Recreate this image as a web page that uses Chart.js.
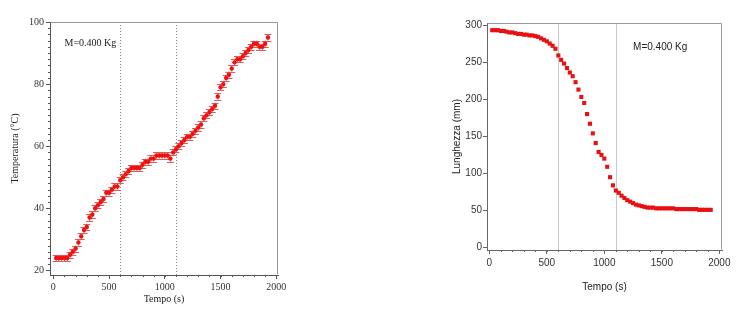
<!DOCTYPE html>
<html><head><meta charset="utf-8">
<script src="https://cdn.jsdelivr.net/npm/chart.js@4.4.0/dist/chart.umd.min.js"></script>
<style>
html,body{margin:0;padding:0;background:#fff;width:743px;height:324px;overflow:hidden}
#c1{position:absolute;left:0;top:0}
#c2{position:absolute;left:400px;top:0}
</style></head><body>
<canvas id="c1" width="300" height="324"></canvas>
<canvas id="c2" width="343" height="324"></canvas>
<script>
// ---- data ----
const times = [25,50,75,100,125,150,175,200,225,250,275,300,325,350,375,400,425,450,475,500,
  525,550,575,600,625,650,675,700,725,750,775,800,825,850,875,900,925,950,975,1000,
  1025,1050,1075,1100,1125,1150,1175,1200,1225,1250,1275,1300,1325,1350,1375,1400,1425,1450,1475,1500,
  1525,1550,1575,1600,1625,1650,1675,1700,1725,1750,1775,1800,1825,1850,1875,1900,1925];
const temperature = [24,24,24,24,24,25,26,27,29,31,
  33,34,37,38,40,41,42,43,45,45,
  46,47,47,49,50,51,52,53,53,53,
  53,54,55,55,56,56,57,57,57,57,
  57,56,58,59,60,61,62,63,63,64,
  65,66,67,69,70,71,72,73,76,79,
  80,82,83,85,87,88,88,89,90,91,
  92,93,93,92,92,93,95];
const temperatureError = [1,1,1,1,1,1,1,1,1,1,1,1,1,1,1,1,1,1,1,1,
  1,1,1,1,1,1,1,1,1,1,1,1,1,1,1,1,1,1,1,1,
  1,1,1,1,1,1,1,1,1,1,1,1,1,1,1,1,1,1,1,1,
  1,1,1,1,1,1,1,1,1,1,1,1,1,1,1,1,1];
const lengthMm = [293,293,293,292,292,291,290,290,289,288,
  288,287,287,286,286,285,284,282,280,278,
  275,272,268,259,253,248,242,236,231,223,
  213,203,195,180,167,154,141,129,125,120,
  109,95,84,77,74,70,67,64,62,60,
  58,57,56,55,54,54,54,53,53,53,
  53,53,53,53,52,52,52,52,52,52,
  52,52,51,51,51,51,51];
const markerTimes = [600, 1100];
const xTicks = [0,500,1000,1500,2000];
const tempYTicks = [20,40,60,80,100];
const lenYTicks = [0,50,100,150,200,250,300];
const noteText = 'M=0.400 Kg';

// ---- decoration plugin (frame, markers, error bars, minor ticks, note) ----
const decor = {
  id: 'decor',
  beforeDatasetsDraw(chart, args, o) {
    const {ctx, chartArea: a, scales: {x, y}} = chart;
    ctx.save();
    ctx.strokeStyle = o.markerColor; ctx.lineWidth = 1; ctx.setLineDash(o.markerDash);
    for (const t of o.markers) {
      const px = Math.round(x.getPixelForValue(t)) + 0.5;
      ctx.beginPath(); ctx.moveTo(px, a.top); ctx.lineTo(px, a.bottom); ctx.stroke();
    }
    ctx.setLineDash([]);
    if (o.errors) {
      const ds = chart.data.datasets[0].data;
      ctx.strokeStyle = o.errColor; ctx.lineWidth = 1;
      ds.forEach((p, i) => {
        const px = x.getPixelForValue(p.x);
        const y1 = y.getPixelForValue(p.y + o.errors[i]);
        const y2 = y.getPixelForValue(p.y - o.errors[i]);
        ctx.beginPath();
        ctx.moveTo(px, y1); ctx.lineTo(px, y2);
        ctx.moveTo(px - 3.5, Math.round(y1) + 0.5); ctx.lineTo(px + 3.5, Math.round(y1) + 0.5);
        ctx.moveTo(px - 3.5, Math.round(y2) + 0.5); ctx.lineTo(px + 3.5, Math.round(y2) + 0.5);
        ctx.stroke();
      });
    }
    ctx.restore();
  },
  afterDraw(chart, args, o) {
    const {ctx, chartArea: a, scales: {x, y}} = chart;
    ctx.save();
    ctx.strokeStyle = o.frameColor; ctx.lineWidth = 1;
    ctx.beginPath();
    ctx.moveTo(a.left + 0.5, a.top + 0.5); ctx.lineTo(a.right - 0.5, a.top + 0.5);
    ctx.lineTo(a.right - 0.5, a.bottom - 0.5);
    ctx.stroke();
    ctx.strokeStyle = o.tickColor;
    ctx.beginPath();
    if (o.xMinor) {
      for (let v = Math.ceil(x.min / o.xMinor) * o.xMinor; v <= x.max; v += o.xMinor) {
        const px = Math.round(x.getPixelForValue(v)) + 0.5;
        ctx.moveTo(px, a.bottom); ctx.lineTo(px, a.bottom + 2);
      }
    }
    if (o.yMinor) {
      for (let v = Math.ceil(y.min / o.yMinor) * o.yMinor; v <= y.max; v += o.yMinor) {
        const py = Math.round(y.getPixelForValue(v)) + 0.5;
        ctx.moveTo(a.left, py); ctx.lineTo(a.left - 2, py);
      }
    }
    ctx.stroke();
    ctx.fillStyle = o.noteColor; ctx.font = o.noteFont;
    ctx.textAlign = 'left'; ctx.textBaseline = 'middle';
    ctx.fillText(noteText, x.getPixelForValue(o.noteX), y.getPixelForValue(o.noteY));
    ctx.restore();
  }
};

function axis(opts) {
  return {
    type: 'linear', min: opts.min, max: opts.max,
    afterFit: opts.fit,
    afterBuildTicks: s => { s.ticks = opts.ticks.map(v => ({value: v})); },
    grid: {drawOnChartArea: false, tickLength: 4, color: opts.tickColor},
    border: {color: opts.tickColor},
    ticks: {padding: opts.tickPad, color: '#333', font: {family: opts.family, size: 10}, maxRotation: 0,
      autoSkip: false, callback: v => String(v)},
    title: {display: true, text: opts.title, color: '#222', font: {family: opts.family, size: 10}, padding: opts.titlePad}
  };
}

new Chart(document.getElementById('c1'), {
  type: 'scatter',
  data: {datasets: [{
    data: times.map((t, i) => ({x: t, y: temperature[i]})),
    pointStyle: 'circle', pointRadius: 2.2, backgroundColor: '#f01010', borderWidth: 0
  }]},
  options: {
    responsive: false, animation: false, devicePixelRatio: 1,
    layout: {padding: {left: 0, right: 22, top: 22, bottom: 0}},
    plugins: {legend: {display: false}, tooltip: {enabled: false},
      decor: {markers: markerTimes, markerColor: '#888', markerDash: [1, 2], errors: temperatureError,
        errColor: '#e05a5a', frameColor: '#999', tickColor: '#555', xMinor: 100, yMinor: 2,
        noteColor: '#222', noteFont: '10px "Liberation Serif"', noteX: 100, noteY: 93}},
    scales: {
      x: axis({min: -30, max: 2015, ticks: xTicks, fit: s => { s.height = 49; }, tickColor: '#555',
        tickPad: 2, family: 'Liberation Serif', title: 'Tempo (s)', titlePad: {top: 0, bottom: 19}}),
      y: axis({min: 18.5, max: 100, ticks: tempYTicks, fit: s => { s.width = 50; }, tickColor: '#555',
        tickPad: 2, family: 'Liberation Serif', title: 'Temperatura (°C)', titlePad: {top: 9, bottom: 0}})
    }
  },
  plugins: [decor]
});

new Chart(document.getElementById('c2'), {
  type: 'scatter',
  data: {datasets: [{
    data: times.map((t, i) => ({x: t, y: lengthMm[i]})),
    pointStyle: 'rect', pointRadius: 2.9, backgroundColor: '#e81010', borderWidth: 0
  }]},
  options: {
    responsive: false, animation: false, devicePixelRatio: 1,
    layout: {padding: {left: 0, right: 21, top: 23, bottom: 0}},
    plugins: {legend: {display: false}, tooltip: {enabled: false},
      decor: {markers: markerTimes, markerColor: '#c8c8c8', markerDash: [], errors: null,
        frameColor: '#999', tickColor: '#666', xMinor: 100, yMinor: 0,
        noteColor: '#222', noteFont: '10px "Liberation Sans"', noteX: 1250, noteY: 270}},
    scales: {
      x: axis({min: -20, max: 2023, ticks: xTicks, fit: s => { s.height = 74; }, tickColor: '#666',
        tickPad: 3, family: 'Liberation Sans', title: 'Tempo (s)', titlePad: {top: 0, bottom: 31}}),
      y: axis({min: -3.1, max: 302.7, ticks: lenYTicks, fit: s => { s.width = 87; }, tickColor: '#666',
        tickPad: 1, family: 'Liberation Sans', title: 'Lunghezza (mm)', titlePad: {top: 51, bottom: 0}})
    }
  },
  plugins: [decor]
});
</script>
</body></html>
